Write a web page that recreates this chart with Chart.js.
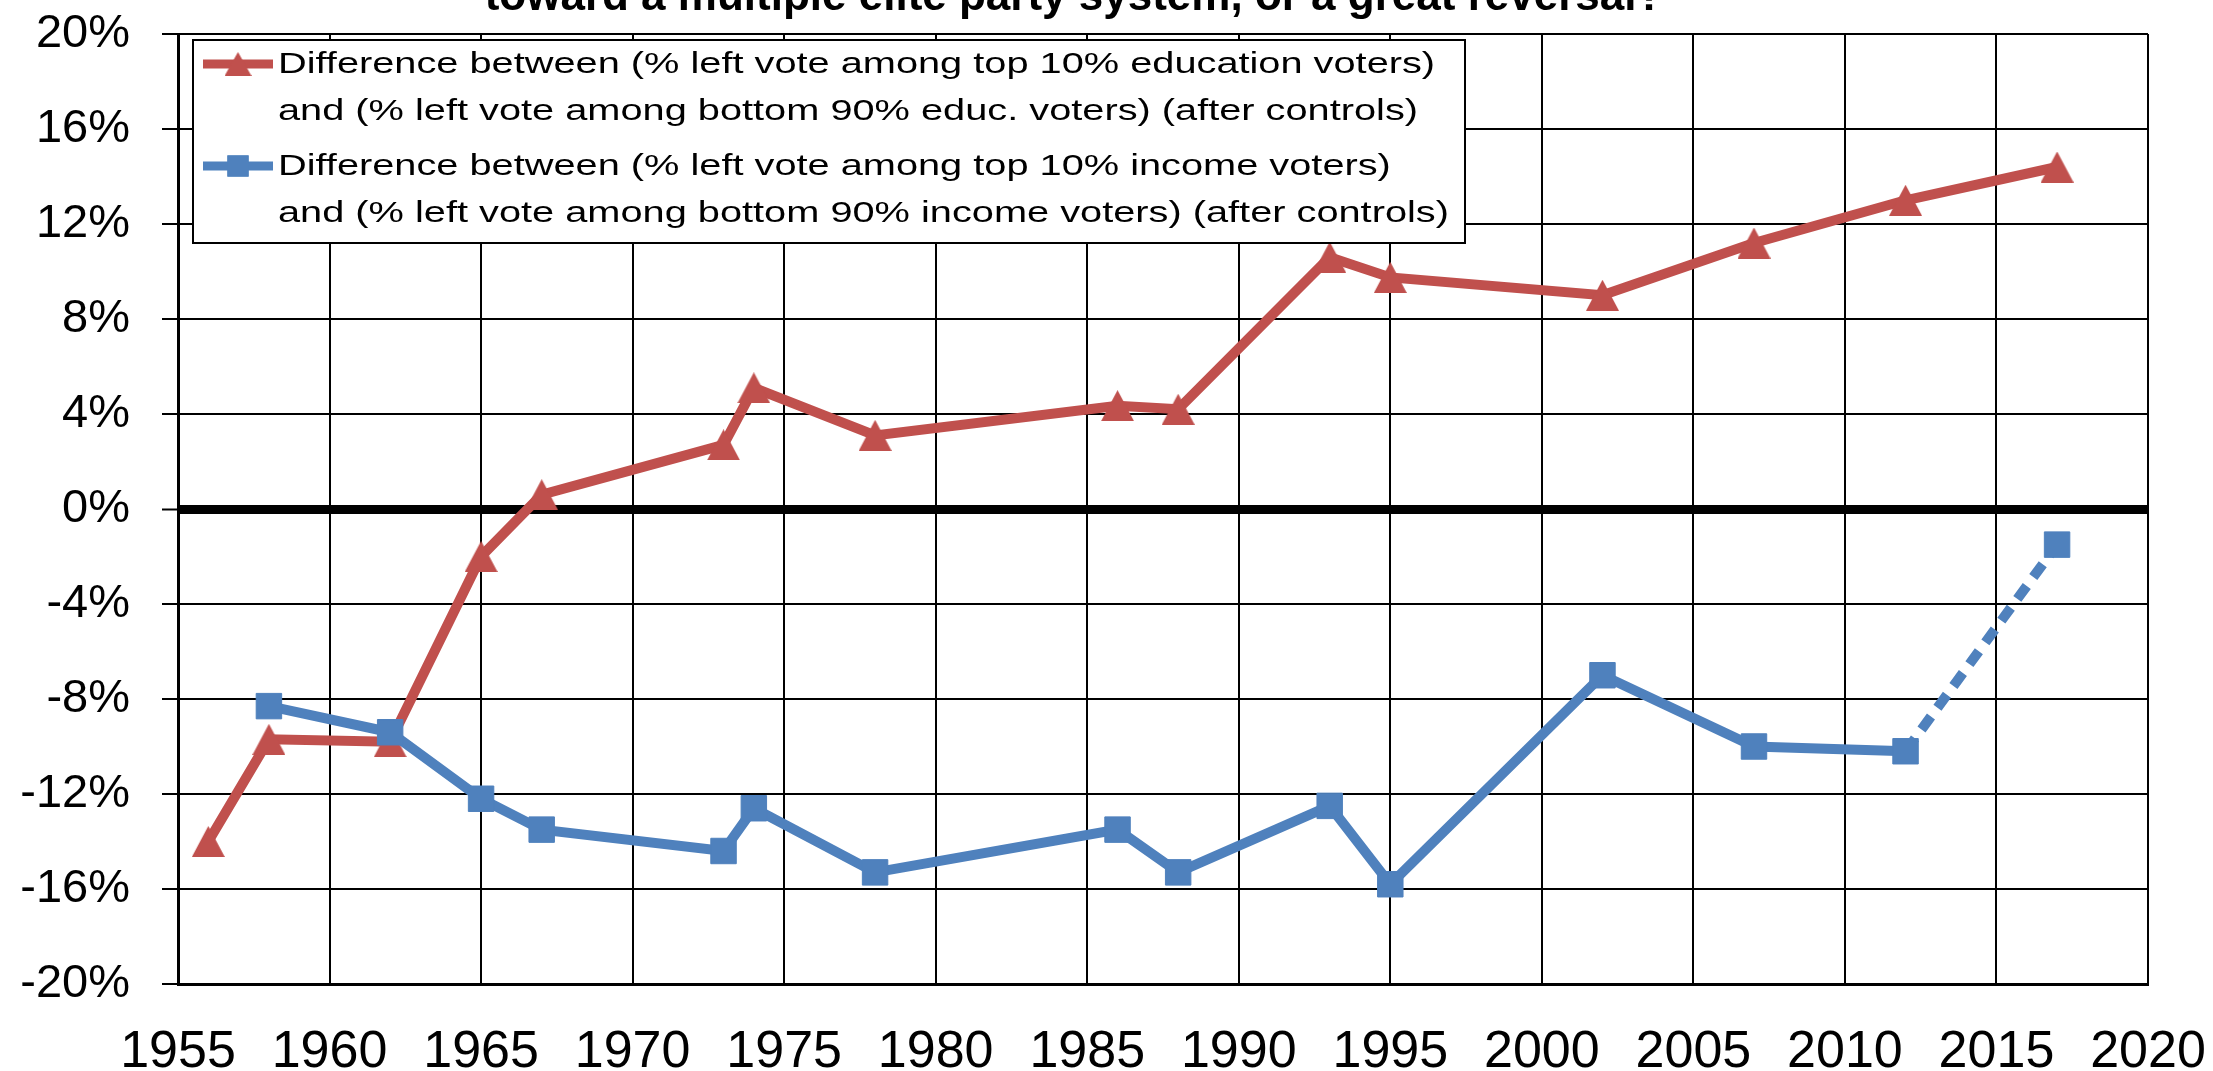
<!DOCTYPE html>
<html>
<head>
<meta charset="utf-8">
<script src="https://cdn.jsdelivr.net/npm/chart.js@4.4.1/dist/chart.umd.min.js"></script>
<style>
  html, body { margin: 0; padding: 0; background: #fff; }
</style>
</head>
<body>
<canvas id="myChart" width="2213" height="1071"></canvas>
<script>
const titleText = 'toward a multiple elite party system, or a great reversal?';

// top 10% education vs bottom 90% (after controls)
const eduYears = [1956, 1958, 1962, 1965, 1967, 1973, 1974, 1978, 1986, 1988, 1993, 1995, 2002, 2007, 2012, 2017];
const eduGap = [-14.0, -9.7, -9.8, -2.0, 0.6, 2.7, 5.1, 3.1, 4.35, 4.2, 10.6, 9.75, 9.0, 11.2, 13.0, 14.4];

// top 10% income vs bottom 90% (after controls)
const incYears = [1958, 1962, 1965, 1967, 1973, 1974, 1978, 1986, 1988, 1993, 1995, 2002, 2007, 2012, 2017];
const incGap = [-8.3, -9.4, -12.2, -13.5, -14.4, -12.6, -15.3, -13.5, -15.3, -12.5, -15.8, -7.0, -10.0, -10.2, -1.5];

const eduLabel = ['Difference between (% left vote among top 10% education voters)',
                  'and (% left vote among bottom 90% educ. voters) (after controls)'];
const incLabel = ['Difference between (% left vote among top 10% income voters)',
                  'and (% left vote among bottom 90% income voters) (after controls)'];

const yTicks = { min: -20, max: 20, step: 4 };
const xTicks = { min: 1955, max: 2020, step: 5 };

const red = '#C0504D';
const blue = '#4F81BD';
const fontFam = "'Liberation Sans', Arial, sans-serif";

Chart.defaults.font.family = fontFam;
Chart.defaults.color = '#000';

const toPoints = (xs, ys) => xs.map((x, i) => ({ x: x, y: ys[i] }));

// excel-like triangle marker: centred on its box, not on its circumcentre
const makeTriangle = (w, h, color) => {
  const cv = document.createElement('canvas');
  cv.width = w;
  cv.height = h;
  const c = cv.getContext('2d');
  c.fillStyle = color;
  c.beginPath();
  c.moveTo(w / 2, 0);
  c.lineTo(w, h);
  c.lineTo(0, h);
  c.closePath();
  c.fill();
  return cv;
};
const redTriangle = makeTriangle(33, 31, red);
const redTriangleSmall = makeTriangle(27, 24, red);

// title sits mostly above the canvas edge, like in the source image
const titlePlugin = {
  id: 'cutTitle',
  afterDraw: (chart) => {
    const c = chart.ctx;
    c.save();
    c.font = 'bold 44px ' + fontFam;
    c.fillStyle = '#000';
    c.textAlign = 'center';
    c.textBaseline = 'alphabetic';
    c.fillText(titleText, 1074, 10);
    c.restore();
  }
};

// two-line legend entries in a box, inside the plot
const boxLegend = {
  id: 'boxLegend',
  afterDatasetsDraw: (chart) => {
    const c = chart.ctx;
    const left = chart.chartArea.left + 15;
    const top = chart.chartArea.top + 6;
    c.save();
    c.fillStyle = '#fff';
    c.fillRect(left, top, 1272, 203);
    c.strokeStyle = '#000';
    c.lineWidth = 2;
    c.strokeRect(left, top, 1272, 203);

    const entries = [
      { lines: eduLabel, color: red, style: redTriangleSmall, y: top + 24 },
      { lines: incLabel, color: blue, style: 'rect', y: top + 126 }
    ];
    entries.forEach(e => {
      c.strokeStyle = e.color;
      c.lineWidth = 9;
      c.beginPath();
      c.moveTo(left + 10, e.y);
      c.lineTo(left + 80, e.y);
      c.stroke();
      c.fillStyle = e.color;
      Chart.helpers.drawPoint(c, { pointStyle: e.style, radius: 15, borderWidth: 0 }, left + 45, e.y);
      c.fill();

      c.fillStyle = '#000';
      c.font = '30px ' + fontFam;
      c.textBaseline = 'middle';
      c.textAlign = 'left';
      e.lines.forEach((t, k) => {
        c.save();
        c.scale(1.325, 1);
        c.fillText(t, (left + 85) / 1.325, e.y + 1 + k * 47);
        c.restore();
      });
    });
    c.restore();
  }
};

const ctx = document.getElementById('myChart');

new Chart(ctx, {
  type: 'line',
  data: {
    datasets: [{
      label: eduLabel.join(' '),
      data: toPoints(eduYears, eduGap),
      borderColor: red,
      backgroundColor: red,
      borderWidth: 10,
      pointStyle: redTriangle,
      pointRadius: 18,
      order: 1
    }, {
      label: incLabel.join(' '),
      data: toPoints(incYears, incGap),
      borderColor: blue,
      backgroundColor: blue,
      borderWidth: 10,
      pointStyle: 'rect',
      pointRadius: 18,
      pointBorderWidth: 1,
      order: 0,
      segment: {
        borderDash: s => s.p1DataIndex === incYears.length - 1 ? [16, 11] : undefined
      }
    }]
  },
  options: {
    responsive: false,
    animation: false,
    devicePixelRatio: 1,
    layout: { padding: { top: 34, right: 65, left: 0, bottom: 0 } },
    plugins: {
      legend: { display: false },
      tooltip: { enabled: false }
    },
    elements: { line: { tension: 0 } },
    scales: {
      x: {
        type: 'linear',
        min: xTicks.min,
        max: xTicks.max,
        afterFit: s => {
          s.height = 87;
          s.paddingLeft = 0;
          s.paddingRight = 0;
        },
        ticks: {
          stepSize: xTicks.step,
          padding: 37,
          font: { size: 52 },
          maxRotation: 0,
          callback: v => String(v)
        },
        grid: { color: '#000', lineWidth: 2, drawTicks: false },
        border: { color: '#000', width: 3 }
      },
      y: {
        min: yTicks.min,
        max: yTicks.max,
        afterFit: s => {
          s.width = 178;
          s.paddingTop = 0;
          s.paddingBottom = 0;
        },
        ticks: {
          stepSize: yTicks.step,
          padding: 32,
          font: { size: 47 },
          callback: v => v + '%'
        },
        grid: {
          color: '#000',
          lineWidth: g => (g.tick && g.tick.value === 0) ? 9 : 2,
          tickLength: 16,
          tickWidth: 2,
          tickColor: '#000'
        },
        border: { color: '#000', width: 3 }
      }
    }
  },
  plugins: [titlePlugin, boxLegend]
});
</script>
</body>
</html>
